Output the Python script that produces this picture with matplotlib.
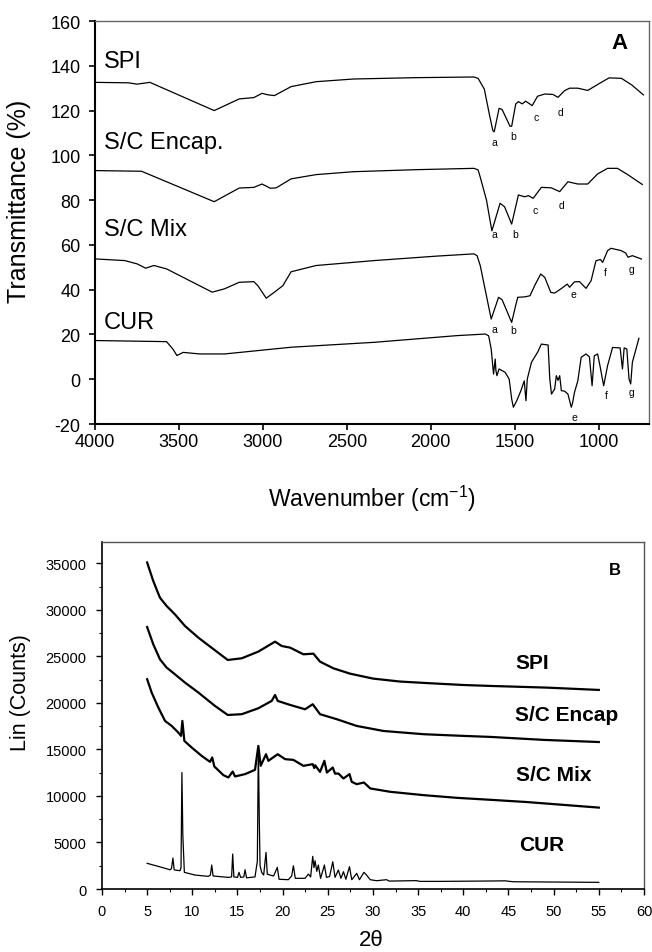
import matplotlib
matplotlib.use('Agg')
import matplotlib.pyplot as plt
from matplotlib.ticker import MultipleLocator

plt.rcParams['font.family'] = ['Liberation Sans', 'DejaVu Sans']
plt.rcParams['mathtext.default'] = 'regular'
plt.rcParams['axes.unicode_minus'] = False

# ---------------- Panel A: FTIR ----------------
spi_wn = [4000, 3800, 3750, 3673, 3290, 3141, 3054, 3005, 2968, 2931, 2832, 2683, 2460, 2089,
          1743, 1718, 1681, 1650, 1630, 1622, 1593, 1575, 1528, 1518, 1494, 1478, 1455, 1435,
          1409, 1396, 1364, 1321, 1272, 1242, 1203, 1173, 1124, 1065, 1000, 938, 864, 802, 733]
spi_t = [132.6, 132.4, 131.8, 132.6, 120.0, 125.2, 125.8, 127.7, 127.0, 126.7, 130.7, 132.9, 134.1, 134.7,
         135.0, 134.4, 129.6, 118.0, 111.0, 110.5, 121.0, 120.5, 113.0, 113.0, 122.9, 124.0, 123.0, 124.2,
         122.9, 122.2, 126.4, 127.4, 127.2, 125.9, 128.9, 130.0, 130.0, 129.0, 131.9, 134.6, 134.4, 131.4, 127.0]

enc_wn = [4000, 3723, 3290, 3141, 3054, 3005, 2955, 2920, 2832, 2683, 2460, 2089, 1743, 1718,
          1705, 1668, 1636, 1587, 1560, 1518, 1478, 1440, 1418, 1390, 1341, 1282, 1232, 1183,
          1124, 1065, 1006, 947, 888, 829, 740]
enc_t = [93.2, 92.9, 79.3, 85.4, 85.7, 87.2, 85.3, 85.5, 89.5, 91.4, 92.7, 93.6, 94.2, 93.5,
         90.2, 80.0, 66.3, 78.6, 77.0, 69.3, 82.3, 81.5, 82.0, 80.8, 85.7, 85.5, 83.8, 88.2,
         87.2, 87.2, 91.7, 94.2, 94.2, 91.5, 87.0]

mix_wn = [4000, 3822, 3748, 3698, 3649, 3574, 3302, 3228, 3141, 3054, 3030, 2980, 2931, 2881,
          2832, 2683, 2337, 1965, 1743, 1724, 1705, 1640, 1596, 1575, 1518, 1494, 1482, 1439,
          1409, 1380, 1345, 1321, 1285, 1262, 1226, 1187, 1173, 1144, 1114, 1075, 1045, 1016,
          990, 976, 947, 927, 868, 839, 825, 799, 745]
mix_t = [53.75, 53.0, 51.5, 49.6, 50.8, 49.3, 38.9, 40.4, 43.3, 43.6, 41.8, 36.2, 38.9, 41.8,
         48.0, 50.8, 53.0, 55.0, 56.0, 55.2, 50.7, 26.9, 36.6, 35.5, 25.4, 33.0, 36.6, 36.8,
         37.3, 42.0, 47.0, 45.5, 38.8, 38.5, 40.3, 42.5, 41.1, 43.5, 43.6, 40.6, 44.0, 52.9,
         53.5, 52.2, 57.4, 58.5, 57.5, 56.4, 54.5, 55.2, 53.7]

cur_wn = [4000, 3574, 3537, 3512, 3475, 3376, 3228, 2832, 2337, 1842, 1675, 1655, 1640, 1626,
          1616, 1612, 1606, 1593, 1557, 1533, 1518, 1508, 1488, 1463, 1443, 1433, 1425, 1400,
          1364, 1341, 1301, 1291, 1281, 1262, 1252, 1242, 1232, 1222, 1203, 1183, 1163, 1155,
          1144, 1124, 1104, 1075, 1055, 1039, 1026, 1006, 992, 970, 947, 917, 872, 858, 848,
          832, 819, 809, 799, 760]
cur_t = [17.3, 16.8, 13.6, 10.6, 12.0, 11.3, 11.3, 14.3, 16.5, 19.5, 20.2, 19.4, 13.5, 2.3,
         9.0, 4.0, 1.6, 4.6, 3.1, 0.1, -8.8, -12.5, -9.6, -5.1, -0.7, -9.6, 0.1, 7.6,
         12.0, 15.7, 15.3, 0.1, -6.6, -4.4, 1.6, -0.5, 1.6, -5.1, -5.3, -6.6, -12.5, -10.5,
         -5.9, -0.7, 9.8, 11.3, 10.0, -2.9, 10.5, 11.3, 6.0, -2.9, 6.0, 14.2, 14.0, 4.6, 14.0,
         13.5, 0.1, -2.1, 7.6, 18.3]

ftir_names = ['SPI', 'S/C Encap.', 'S/C Mix', 'CUR']
ftir_name_y = [142.3, 105.8, 67.1, 25.5]

peak_letters = ['a', 'b', 'c', 'd',
                'a', 'b', 'c', 'd',
                'a', 'b', 'e', 'f', 'g',
                'e', 'f', 'g']
peak_wn = [1619, 1512, 1371, 1228,
           1624, 1500, 1376, 1223,
           1624, 1507, 1149, 963, 802,
           1144, 955, 802]
peak_t = [106.1, 108.8, 117.3, 119.3,
          64.9, 64.9, 75.8, 77.9,
          22.5, 21.8, 38.1, 48.1, 49.3,
          -16.9, -7.0, -5.8]

# ---------------- Panel B: XRD ----------------
spi_2t = [5.0, 5.68, 6.42, 7.16, 8.08, 9.19, 10.67, 12.51, 13.92, 15.47, 17.31, 19.16, 19.9,
          20.82, 22.3, 23.4, 24.14, 25.6, 27.46, 30.0, 33.0, 36.3, 40.0, 43.0, 49.2, 55.0]
spi_c = [35100, 33100, 31310, 30420, 29520, 28270, 27020, 25660, 24620, 24800, 25520, 26590, 26120,
         25950, 25230, 25300, 24440, 23730, 23150, 22620, 22300, 22120, 21930, 21830, 21650, 21400]

enc_2t = [5.0, 5.68, 6.42, 7.16, 8.08, 9.19, 10.67, 12.51, 13.92, 15.47, 17.31, 18.79, 19.16,
          19.45, 20.82, 22.48, 23.33, 24.14, 26.0, 28.2, 31.15, 35.6, 40.0, 43.0, 48.9, 55.0]
enc_c = [28160, 26300, 24690, 23800, 23080, 22190, 21120, 19680, 18710, 18790, 19430, 20220, 20860,
         20220, 19790, 19320, 19860, 18790, 18250, 17530, 16990, 16640, 16460, 16350, 16030, 15800]

mix_2t = [5.0, 5.5, 6.24, 6.98, 7.72, 8.45, 8.75, 8.9, 9.12, 9.93, 11.04, 11.96, 12.2, 12.44,
          13.44, 13.99, 14.47, 14.73, 15.84, 16.94, 17.31, 17.57, 18.16, 18.42, 19.45, 20.27,
          21.19, 22.3, 23.33, 23.5, 23.6, 24.14, 24.62, 24.9, 25.55, 25.8, 26.17, 26.73, 27.4,
          27.65, 28.2, 29.0, 29.7, 31.9, 35.6, 39.3, 43.0, 47.0, 55.0]
mix_c = [22550, 21120, 19500, 18070, 17530, 16820, 16460, 18070, 15920, 15210, 14310, 13670, 14140, 13170,
         12240, 11990, 12630, 12100, 12350, 12810, 15380, 13240, 14490, 13780, 14490, 13960,
         13880, 13240, 13420, 13000, 13300, 12590, 13780, 12520, 13060, 12400, 12420, 11880, 12350,
         11520, 11270, 11450, 10810, 10450, 10090, 9800, 9590, 9350, 8750]

cur_2t = [5.0, 6.6, 7.53, 7.7, 7.85, 8.0, 8.64, 8.75, 8.85, 8.95, 9.12, 10.3, 11.77, 12.0, 12.15,
          12.3, 13.99, 14.35, 14.47, 14.6, 15.0, 15.17, 15.35, 15.7, 15.84, 16.0, 16.94, 17.2,
          17.31, 17.42, 17.5, 17.68, 17.9, 18.16, 18.3, 18.6, 19.0, 19.41, 19.6, 20.63, 21.0,
          21.19, 21.4, 22.48, 22.85, 23.1, 23.33, 23.47, 23.59, 23.78, 23.95, 24.2, 24.5, 24.62,
          24.85, 25.2, 25.55, 25.8, 26.17, 26.45, 26.73, 27.0, 27.4, 27.65, 28.2, 28.5, 29.0,
          29.2, 29.7, 30.4, 31.5, 31.8, 34.8, 35.2, 37.4, 43.0, 44.6, 45.5, 55.0]
cur_c = [2760, 2330, 2070, 2200, 3330, 2050, 1970, 2300, 12520, 5800, 1790, 1500, 1360, 1500, 2580,
         1400, 1250, 1300, 3760, 1300, 1250, 1790, 1250, 1300, 2070, 1200, 1300, 3000,
         15380, 7160, 2500, 1790, 1500, 3940, 1600, 1500, 1400, 2330, 1050, 1000, 1400,
         2500, 1150, 1150, 1610, 1300, 3510, 2300, 3040, 1900, 2580, 1150, 2150, 2580,
         1250, 1350, 2930, 1250, 2040, 1150, 1860, 1050, 2400, 1000, 1680, 1000, 1790,
         1600, 1000, 890, 1000, 850, 900, 820, 820, 860, 880, 780, 716]

xrd_names = ['SPI', 'S/C Encap', 'S/C Mix', 'CUR']
xrd_name_x = [47.6, 51.4, 50.0, 48.7]
xrd_name_y = [24340, 18790, 12350, 4830]

# ================= Figure =================
fig = plt.figure(figsize=(6.52, 9.53), dpi=100)

axA = fig.add_axes([0.1457, 0.554, 0.8497, 0.4229])
for wn, t in [(spi_wn, spi_t), (enc_wn, enc_t), (mix_wn, mix_t), (cur_wn, cur_t)]:
    axA.plot(wn, t, color='black', lw=0.9)
axA.set_xlim(4000, 700)
axA.set_ylim(-20, 160)
axA.xaxis.set_major_locator(MultipleLocator(500))
axA.yaxis.set_major_locator(MultipleLocator(20))
axA.tick_params(axis='both', direction='out', length=4.5, width=1.2, labelsize=13)
axA.tick_params(axis='y', pad=6)
axA.tick_params(axis='x', pad=2)
for s in ['left', 'bottom']:
    axA.spines[s].set_linewidth(1.5)
for s in ['top', 'right']:
    axA.spines[s].set_linewidth(1.0)
    axA.spines[s].set_color('#666666')

for name, y in zip(ftir_names, ftir_name_y):
    axA.text(3946, y, name, fontsize=17, ha='left', va='center')
axA.text(876, 150.5, 'A', fontsize=16, fontweight='bold', ha='center', va='center')
for l, x, y in zip(peak_letters, peak_wn, peak_t):
    axA.text(x, y, l, fontsize=7.5, ha='center', va='center')

axA.set_xlabel('Wavenumber (cm$^{-1}$)', fontsize=16.5)
axA.xaxis.set_label_coords(0.5, -0.145)
axA.set_ylabel('Transmittance (%)', fontsize=18)
axA.yaxis.set_label_coords(-0.115, 0.555)

axB = fig.add_axes([0.1564, 0.0661, 0.8313, 0.3641])
for tt, c, lw in [(spi_2t, spi_c, 1.6), (enc_2t, enc_c, 1.6), (mix_2t, mix_c, 1.6), (cur_2t, cur_c, 0.9)]:
    axB.plot(tt, c, color='black', lw=lw)
axB.set_xlim(0, 60)
axB.set_ylim(0, 37300)
axB.xaxis.set_major_locator(MultipleLocator(5))
axB.xaxis.set_minor_locator(MultipleLocator(2.5))
axB.yaxis.set_major_locator(MultipleLocator(5000))
axB.yaxis.set_minor_locator(MultipleLocator(2500))
axB.tick_params(which='major', direction='out', length=4, width=1.0, labelsize=10.5)
axB.tick_params(which='minor', direction='out', length=2.5, width=0.8)
axB.tick_params(axis='y', which='major', pad=7)
axB.tick_params(axis='x', which='major', pad=7)
for s in ['left', 'bottom']:
    axB.spines[s].set_linewidth(1.2)
for s in ['top', 'right']:
    axB.spines[s].set_linewidth(1.0)
    axB.spines[s].set_color('#555555')

for name, x, y in zip(xrd_names, xrd_name_x, xrd_name_y):
    axB.text(x, y, name, fontsize=15, fontweight='bold', ha='center', va='center')
axB.text(56.8, 34360, 'B', fontsize=12, fontweight='bold', ha='center', va='center')

axB.set_xlabel('2θ', fontsize=16)
axB.xaxis.set_label_coords(0.496, -0.115)
axB.set_ylabel('Lin (Counts)', fontsize=15.5)
axB.yaxis.set_label_coords(-0.131, 0.568)

fig.savefig('out.png', dpi=100)
